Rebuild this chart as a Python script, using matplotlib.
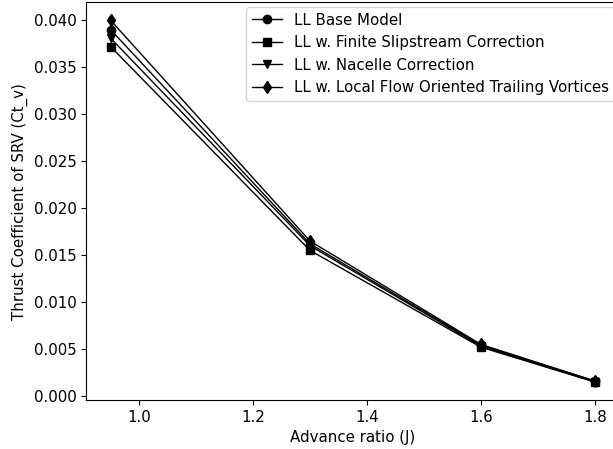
import matplotlib.pyplot as plt

plt.rcParams['font.size'] = 10.8

# advance ratios and thrust coefficients for each lifting line variant
J = [0.95, 1.3, 1.6, 1.8]
ct_base = [0.0390, 0.0162, 0.0054, 0.0016]
ct_slipstream = [0.0372, 0.0155, 0.0052, 0.0015]
ct_nacelle = [0.0381, 0.0160, 0.0053, 0.0015]
ct_trailing = [0.0400, 0.0165, 0.0055, 0.0016]

fig, ax = plt.subplots(figsize=(6.13, 4.49), dpi=100)
ax.plot(J, ct_base, color='black', marker='o', linewidth=1, label='LL Base Model')
ax.plot(J, ct_slipstream, color='black', marker='s', linewidth=1, label='LL w. Finite Slipstream Correction')
ax.plot(J, ct_nacelle, color='black', marker='v', linewidth=1, label='LL w. Nacelle Correction')
ax.plot(J, ct_trailing, color='black', marker='d', linewidth=1, label='LL w. Local Flow Oriented Trailing Vortices')

ax.set_xlabel('Advance ratio (J)')
ax.set_ylabel('Thrust Coefficient of SRV (Ct_v)')
ax.legend(loc='upper right', borderaxespad=0.3)
fig.subplots_adjust(left=0.141, right=1.01, top=0.995, bottom=0.109)
fig.savefig('out.png')
